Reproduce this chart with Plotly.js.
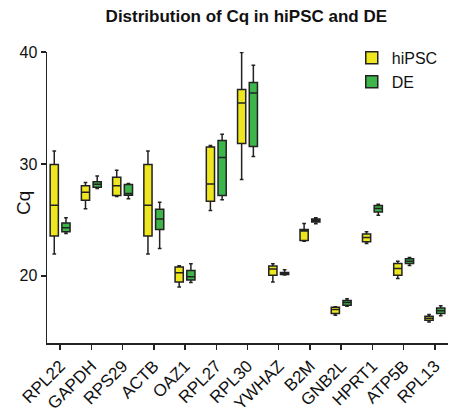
<!DOCTYPE html>
<html>
<head>
<meta charset="utf-8">
<script src="https://cdn.plot.ly/plotly-3.0.1.min.js"></script>
<style>html,body{margin:0;padding:0;background:#fff;}#chart{width:452px;height:413px;}</style>
</head>
<body>
<div id="chart"></div>
<script>
const genes = ["RPL22","GAPDH","RPS29","ACTB","OAZ1","RPL27","RPL30","YWHAZ","B2M","GNB2L","HPRT1","ATP5B","RPL13"];

// hiPSC
const hipscMin = [21.96, 26.0, 27.1, 21.96, 19.0, 25.84, 28.6, 19.44, 23.1, 16.49, 22.89, 19.77, 15.87];
const hipscQ1  = [23.55, 26.76, 27.18, 23.55, 19.44, 26.67, 31.82, 20.06, 23.16, 16.64, 23.04, 20.06, 16.04];
const hipscMed = [26.3, 27.47, 28.04, 26.3, 20.27, 28.21, 35.45, 20.62, 24.0, 17.0, 23.43, 20.66, 16.22];
const hipscQ3  = [29.95, 28.04, 28.81, 29.95, 20.78, 31.52, 36.64, 20.89, 24.14, 17.2, 23.75, 21.1, 16.4];
const hipscMax = [31.16, 28.34, 29.44, 31.16, 20.9, 31.64, 39.95, 21.07, 24.68, 17.25, 23.93, 21.31, 16.55];

// DE
const deMin = [23.78, 27.8, 26.88, 22.45, 19.41, 26.79, 30.66, 20.08, 24.65, 17.29, 25.42, 20.93, 16.43];
const deQ1  = [23.93, 27.92, 27.2, 24.14, 19.64, 27.18, 31.55, 20.12, 24.8, 17.38, 25.71, 21.1, 16.64];
const deMed = [24.29, 28.19, 27.36, 25.07, 19.91, 30.57, 36.34, 20.21, 24.95, 17.62, 26.02, 21.31, 16.88];
const deQ3  = [24.73, 28.4, 28.16, 25.96, 20.48, 32.09, 37.27, 20.3, 25.09, 17.8, 26.29, 21.52, 17.12];
const deMax = [25.2, 28.93, 28.25, 26.58, 21.07, 32.65, 38.81, 20.54, 25.18, 17.95, 26.4, 21.64, 17.32];

const lineCol = "#222222";
const traces = [
  {type:"box", name:"hiPSC", x:genes, q1:hipscQ1, median:hipscMed, q3:hipscQ3,
   lowerfence:hipscMin, upperfence:hipscMax,
   fillcolor:"#EEE61E", line:{color:lineCol, width:1.5}, whiskerwidth:0.45, boxpoints:false, hoverinfo:"skip"},
  {type:"box", name:"DE", x:genes, q1:deQ1, median:deMed, q3:deQ3,
   lowerfence:deMin, upperfence:deMax,
   fillcolor:"#3DB54A", line:{color:lineCol, width:1.5}, whiskerwidth:0.45, boxpoints:false, hoverinfo:"skip"}
];

const layout = {
  width:452, height:413,
  margin:{l:47, r:4, t:52, b:70},
  paper_bgcolor:"#fff", plot_bgcolor:"#fff",
  boxmode:"group", boxgap:0.25, boxgroupgap:0.3,
  font:{family:"Liberation Sans, Arial, sans-serif", color:"#111"},
  title:{text:"<b>Distribution of Cq in hiPSC and DE</b>", font:{size:17, color:"#111"},
         x:0.545, xanchor:"center", y:0.962, yanchor:"middle"},
  xaxis:{type:"category", range:[-0.42, 12.42], showline:true, linecolor:"#222", linewidth:1.5,
         ticks:"outside", ticklen:5, tickwidth:1.5, tickcolor:"#222",
         tickangle:-45, tickfont:{size:17, color:"#111"}, showgrid:false, zeroline:false, fixedrange:true,
         automargin:false},
  yaxis:{range:[14, 40], tickvals:[20,30,40], showline:true, linecolor:"#222", linewidth:1.5,
         ticks:"outside", ticklen:5, tickwidth:1.5, tickcolor:"#222",
         tickfont:{size:16, color:"#111"}, showgrid:false, zeroline:false, automargin:false},
  annotations:[{text:"Cq", xref:"paper", yref:"paper", x:-0.058, y:0.48, xanchor:"center", yanchor:"middle",
                textangle:-90, showarrow:false, font:{size:19, color:"#111"}}],
  legend:{x:0.76, y:1.038, xanchor:"left", yanchor:"top", font:{size:16, color:"#111"},
          bgcolor:"rgba(0,0,0,0)", tracegroupgap:4, itemwidth:30},
  showlegend:true
};

Plotly.newPlot("chart", traces, layout, {displayModeBar:false, staticPlot:true});
</script>
</body>
</html>
